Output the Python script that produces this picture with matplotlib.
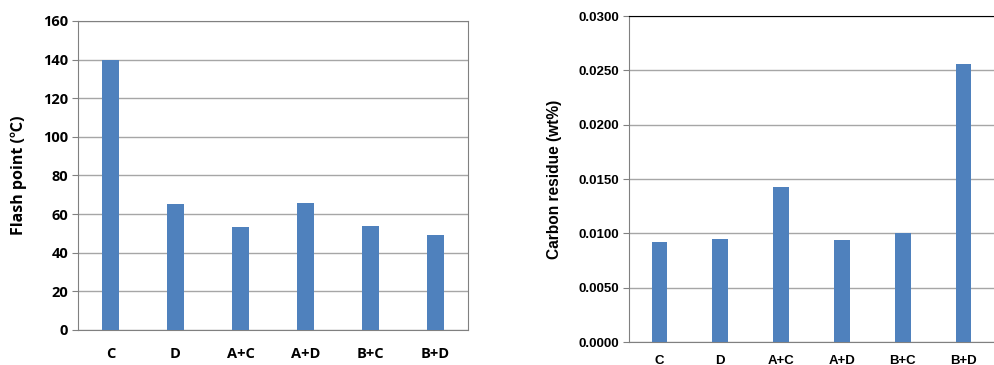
import numpy as np
import matplotlib.pyplot as plt

# data
categories = ['C', 'D', 'A+C', 'A+D', 'B+C', 'B+D']
flash_point = [140, 65, 53.5, 66, 54, 49]
carbon_residue = [0.0092, 0.0095, 0.01425, 0.0094, 0.0100, 0.0256]

bar_color = '#4F81BD'
grid_color = '#A6A6A6'
left_font = ['Open Sans', 'Noto Sans CJK KR', 'DejaVu Sans']

fig = plt.figure(figsize=(9.94, 3.65), dpi=100)

# left: flash point
ax1 = fig.add_axes([0.0785, 0.0959, 0.3924, 0.8466])
x = np.arange(len(categories))
ax1.bar(x, flash_point, width=0.26, color=bar_color, zorder=3)
ax1.set_xlim(-0.5, len(categories) - 0.5)
ax1.set_ylim(0, 160)
ax1.set_yticks(np.arange(0, 161, 20))
ax1.yaxis.grid(True, color=grid_color, linewidth=1, zorder=0)
ax1.set_xticks(x)
ax1.set_xticklabels(categories)
for s in ax1.spines.values():
    s.set_color('#808080')
ax1.tick_params(axis='x', length=0, pad=12)
ax1.tick_params(axis='y', length=4, color='#808080', pad=3)
for lab in ax1.get_xticklabels() + ax1.get_yticklabels():
    lab.set_fontfamily(left_font)
    lab.set_fontweight('bold')
    lab.set_fontsize(10.5)
ax1.set_ylabel('Flash point (\u2103)', fontfamily=left_font, fontweight='bold',
               fontsize=11.5, labelpad=12)

# right: carbon residue
ax2 = fig.add_axes([0.6328, 0.063, 0.3672, 0.893])
ax2.bar(x, carbon_residue, width=0.26, color=bar_color, zorder=3)
ax2.set_xlim(-0.5, len(categories) - 0.5)
ax2.set_ylim(0, 0.03)
ax2.set_yticks(np.arange(0, 0.0301, 0.005))
ax2.set_yticklabels([f'{v:.4f}' for v in np.arange(0, 0.0301, 0.005)])
ax2.yaxis.grid(True, color=grid_color, linewidth=1, zorder=0)
ax2.set_xticks(x)
ax2.set_xticklabels(categories)
ax2.spines['top'].set_color('black')
ax2.spines['left'].set_color('#808080')
ax2.spines['bottom'].set_color('#808080')
ax2.spines['right'].set_visible(False)
ax2.tick_params(axis='x', length=0, pad=9)
ax2.tick_params(axis='y', length=4, color='#808080', pad=3)
for lab in ax2.get_xticklabels() + ax2.get_yticklabels():
    lab.set_fontfamily('Liberation Sans')
    lab.set_fontweight('bold')
    lab.set_fontsize(9.5)
ax2.set_ylabel('Carbon residue (wt%)', fontfamily='Liberation Sans',
               fontweight='bold', fontsize=11.2, labelpad=12)

fig.savefig('out.png', dpi=100)
